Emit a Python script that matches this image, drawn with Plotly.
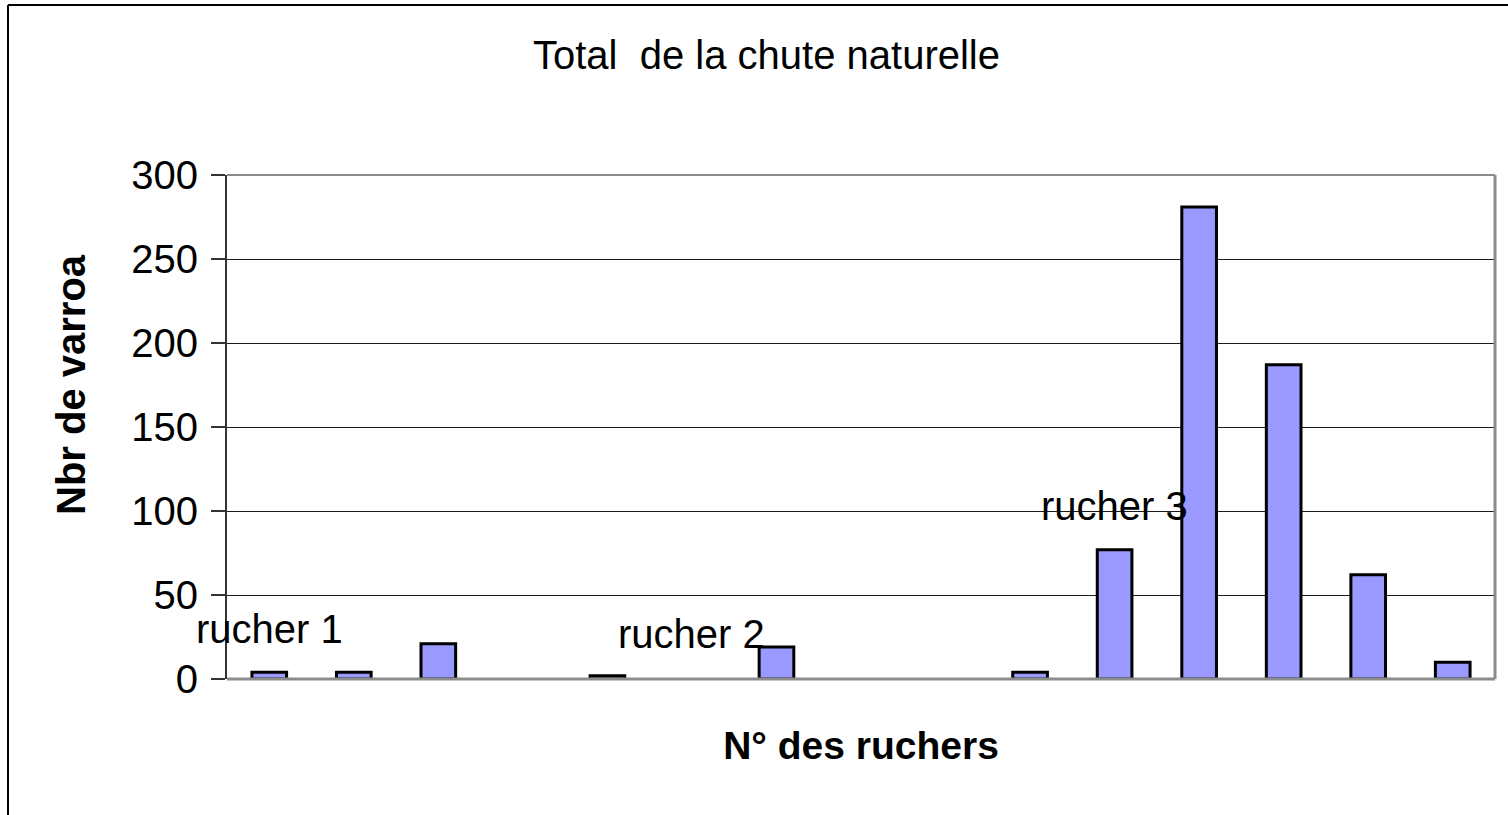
import plotly.graph_objects as go

# Data
ruchers = list(range(1, 16))
varroas = [4, 4, 21, None, 2, None, 19, None, None, 4, 77, 281, 187, 62, 10]
y_ticks = [0, 50, 100, 150, 200, 250, 300]
group_labels = ["rucher 1", "rucher 2", "rucher 3"]
group_label_x = [1, 6, 11]
group_label_y = [30, 27, 103]

W, H = 1508, 815
L, R, T, B = 227, 13, 175, 136
pw, ph = W - L - R, H - T - B

def px(x):
    return (x - L) / pw

def py(y):
    return (H - B - y) / ph

FONT = "Liberation Sans, Arial, sans-serif"

fig = go.Figure()
fig.add_trace(go.Bar(
    x=ruchers, y=varroas,
    marker=dict(color="#9999FF", line=dict(color="black", width=3)),
    width=0.41,
    hoverinfo="x+y",
))

fig.update_layout(
    width=W, height=H,
    margin=dict(l=L, r=R, t=T, b=B),
    paper_bgcolor="white", plot_bgcolor="white",
    showlegend=False,
    font=dict(family=FONT, color="black", size=40),
    title=dict(text="Total  de la chute naturelle", x=(528 + 1005) / 2 / W, xanchor="center",
               y=1 - 55 / H, yanchor="middle", font=dict(size=40, family=FONT)),
    xaxis=dict(range=[0.5, 15.5], showticklabels=False, ticks="", showgrid=False,
               zeroline=False, showline=False,
               title=dict(text="<b>N° des ruchers</b>", font=dict(size=39), standoff=52)),
    yaxis=dict(range=[0, 300], tickvals=y_ticks, ticks="outside", ticklen=14, tickwidth=1.5,
               tickcolor="#333333", showgrid=True, gridcolor="#1a1a1a", gridwidth=1,
               zeroline=False, showline=True, linecolor="#333333", linewidth=2,
               tickfont=dict(size=40), ticklabelstandoff=5),
)

# plot area border (gray) top/right/bottom
fig.add_shape(type="line", xref="paper", yref="paper", x0=0, x1=1, y0=1, y1=1,
              line=dict(color="#8c8c8c", width=2))
fig.add_shape(type="line", xref="paper", yref="paper", x0=1, x1=1, y0=0, y1=1,
              line=dict(color="#8c8c8c", width=3))
fig.add_shape(type="line", xref="paper", yref="paper", x0=0, x1=1, y0=0, y1=0,
              line=dict(color="#8c8c8c", width=3))

# outer chart frame
fig.add_shape(type="line", xref="paper", yref="paper", x0=px(8), x1=px(W + 5), y0=py(5), y1=py(5),
              line=dict(color="black", width=2))
fig.add_shape(type="line", xref="paper", yref="paper", x0=px(8), x1=px(8), y0=py(5), y1=py(H + 5),
              line=dict(color="black", width=2))

# y axis title
fig.add_annotation(text="<b>Nbr de varroa</b>", xref="paper", yref="paper",
                   x=px(71), y=py(385), textangle=-90, showarrow=False,
                   font=dict(size=40, family=FONT), xanchor="center", yanchor="middle")

for lab, gx, gy in zip(group_labels, group_label_x, group_label_y):
    fig.add_annotation(text=lab, x=gx, y=gy, xref="x", yref="y", showarrow=False,
                       font=dict(size=40, family=FONT), xanchor="center", yanchor="middle")

fig.write_html("out.html", config={"displayModeBar": False},
               post_script="document.body.style.margin='0px';document.body.style.overflow='hidden';")
